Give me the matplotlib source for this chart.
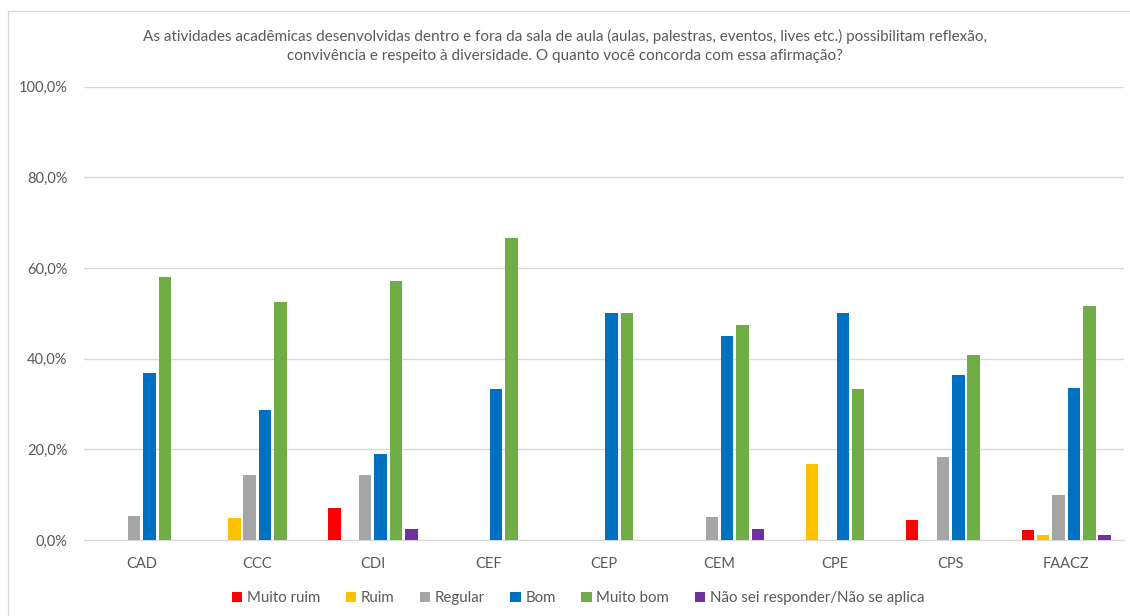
import matplotlib.pyplot as plt
import numpy as np
from matplotlib.patches import Rectangle
from matplotlib.ticker import FuncFormatter

plt.rcParams['font.family'] = ['Lato', 'DejaVu Sans']

# cursos
courses = ['CAD', 'CCC', 'CDI', 'CEF', 'CEP', 'CEM', 'CPE', 'CPS', 'FAACZ']

# respostas (%)
series_names = ['Muito ruim', 'Ruim', 'Regular', 'Bom', 'Muito bom',
                'Não sei responder/Não se aplica']
muito_ruim = [0.0, 0.0, 7.1, 0.0, 0.0, 0.0, 0.0, 4.5, 2.2]
ruim = [0.0, 4.8, 0.0, 0.0, 0.0, 0.0, 16.7, 0.0, 1.1]
regular = [5.3, 14.3, 14.3, 0.0, 0.0, 5.0, 0.0, 18.2, 9.9]
bom = [36.8, 28.6, 19.0, 33.3, 50.0, 45.0, 50.0, 36.4, 33.5]
muito_bom = [57.9, 52.4, 57.1, 66.7, 50.0, 47.5, 33.3, 40.9, 51.6]
nao_sei = [0.0, 0.0, 2.4, 0.0, 0.0, 2.5, 0.0, 0.0, 1.1]

colors = ['#FF0000', '#FFC000', '#A5A5A5', '#0070C0', '#70AD47', '#7030A0']
all_series = [muito_ruim, ruim, regular, bom, muito_bom, nao_sei]

fig = plt.figure(figsize=(11.3, 6.16), dpi=100)
ax = fig.add_axes([84 / 1130, 76 / 616, 1040 / 1130, 453.5 / 616])

# moldura do grafico
fig.patches.append(Rectangle((8 / 1130, -0.1), 1.2, 1 - 11 / 616 + 0.1,
                             transform=fig.transFigure, fill=False,
                             edgecolor='#D9D9D9', linewidth=1))

x = np.arange(len(courses))
slot = 0.133
width = 0.108
for i, (name, vals, c) in enumerate(zip(series_names, all_series, colors)):
    offs = (i - 2.5) * slot
    ax.bar(x + offs, np.array(vals) / 100, width, color=c, label=name, zorder=3)

ax.set_xlim(-0.5, len(courses) - 0.5)
ax.set_ylim(0, 1)
ax.set_yticks(np.arange(0, 1.01, 0.2))
ax.yaxis.set_major_formatter(FuncFormatter(lambda v, p: f'{v * 100:.1f}%'.replace('.', ',')))
ax.set_xticks(x)
ax.set_xticklabels(courses)
ax.grid(axis='y', color='#D9D9D9', linewidth=1, zorder=0)
for s in ['top', 'right', 'left']:
    ax.spines[s].set_visible(False)
ax.spines['bottom'].set_color('#D9D9D9')
ax.tick_params(axis='both', length=0, colors='#595959', labelsize=10.5)
ax.tick_params(axis='x', pad=12)
ax.tick_params(axis='y', pad=12)

fig.text(0.5, 1 - 46 / 616,
         'As atividades acadêmicas desenvolvidas dentro e fora da sala de aula (aulas, palestras, eventos, lives etc.) possibilitam reflexão,\n'
         'convivência e respeito à diversidade. O quanto você concorda com essa afirmação?',
         ha='center', va='center', fontsize=11, color='#595959', linespacing=1.45)

ax.legend(loc='center', bbox_to_anchor=(578 / 1130, 1 - 598 / 616),
          bbox_transform=fig.transFigure, ncol=6, frameon=False,
          fontsize=10.8, handlelength=0.7, handleheight=0.7,
          handletextpad=0.3, columnspacing=1.7, labelcolor='#595959')

fig.savefig('out.png', dpi=100)
